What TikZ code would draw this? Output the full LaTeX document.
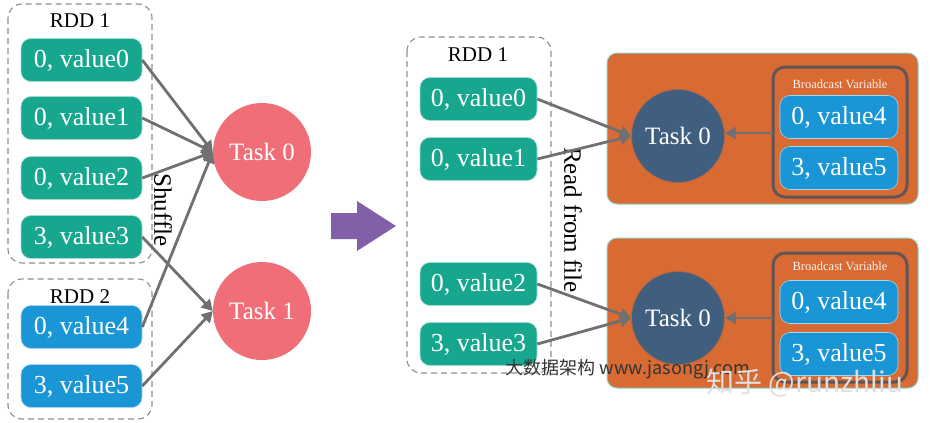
\documentclass[tikz,border=0pt]{standalone}
\usepackage{fontspec}
\setmainfont{Liberation Serif}
\newfontfamily\cjk{Noto Sans CJK SC}
\usetikzlibrary{arrows.meta}
\definecolor{teal1}{RGB}{23,166,142}
\definecolor{blue1}{RGB}{26,150,214}
\definecolor{pink1}{RGB}{240,110,120}
\definecolor{dark1}{RGB}{64,94,125}
\definecolor{orange1}{RGB}{216,107,52}
\definecolor{purple1}{RGB}{130,96,168}
\definecolor{line1}{RGB}{112,112,112}
\definecolor{bcline}{RGB}{95,85,85}
\tikzset{
  valbox/.style={rounded corners=10pt, minimum width=121pt, minimum height=43pt,
    text=white, font=\fontsize{26}{26}\selectfont, inner sep=0pt, draw=white!60!#1, line width=0.6pt, fill=#1},
  taskc/.style={circle, minimum size=#1, inner sep=0pt, text=white, font=\fontsize{25}{25}\selectfont},
  dbox/.style={draw=line1!80, dashed, dash pattern=on 6pt off 4pt, line width=1.1pt, rounded corners=14pt},
  conn/.style={draw=line1, line width=2.8pt, -{Triangle[length=11pt,width=12pt]}},
  lab/.style={font=\fontsize{21}{21}\selectfont},
  vlab/.style={font=\fontsize{25}{25}\selectfont, rotate=-90},
  obox/.style={fill=orange1, draw=teal1!50, line width=1pt, rounded corners=10pt},
  bcbox/.style={draw=bcline, line width=3pt, rounded corners=12pt},
}
\begin{document}
\begin{tikzpicture}[x=1pt,y=-1pt]
\useasboundingbox (0,0) rectangle (932,423);
% ---------- left panel ----------
\draw[dbox] (8,4) rectangle (152,263);
\draw[dbox] (8,279) rectangle (152,419);
\node[lab] (r1) at (80,21) {RDD 1};
\node[lab] (r2) at (80,297) {RDD 2};
\node[valbox=teal1] (a0) at (81.5,60) {0, value0};
\node[valbox=teal1] (a1) at (81.5,118) {0, value1};
\node[valbox=teal1] (a2) at (81.5,178) {0, value2};
\node[valbox=teal1] (a3) at (81.5,237) {3, value3};
\node[valbox=blue1] (a4) at (81.5,327) {0, value4};
\node[valbox=blue1] (a5) at (81.5,386) {3, value5};
\node[taskc=98pt, fill=pink1] (t0) at (262,152) {Task 0};
\node[taskc=98pt, fill=pink1] (t1) at (262,311) {Task 1};
\node[vlab] (sh) at (163,210) {Shuffle};
\draw[conn] (a0.east) -- (t0.west);
\draw[conn] (a1.east) -- (t0.west);
\draw[conn] (a2.east) -- (t0.west);
\draw[conn] (a4.east) -- (t0.west);
\draw[conn] (a3.east) -- (t1.west);
\draw[conn] (a5.east) -- (t1.west);
% ---------- big arrow ----------
\fill[purple1] (331,213) -- (357,213) -- (357,201) -- (396,226) -- (357,251) -- (357,239) -- (331,239) -- cycle;
% ---------- right panel ----------
\draw[dbox] (407,37) rectangle (551,373);
\node[lab] (rr1) at (478,55) {RDD 1};
\node[valbox=teal1, minimum width=117pt] (b0) at (478.5,99) {0, value0};
\node[valbox=teal1, minimum width=117pt] (b1) at (478.5,159) {0, value1};
\node[valbox=teal1, minimum width=117pt] (b2) at (478.5,284) {0, value2};
\node[valbox=teal1, minimum width=117pt] (b3) at (478.5,344) {3, value3};
\node[vlab] (rf) at (573,220) {Read from file};
% executor 1
\draw[obox] (607,53) rectangle (918,204);
\draw[bcbox] (773,67) rectangle (907,197);
\node[font=\fontsize{12.5}{12.5}\selectfont, text=white!90!orange1] (bv1) at (840,84) {Broadcast Variable};
\node[valbox=blue1, minimum width=118pt] (c4) at (839,117) {0, value4};
\node[valbox=blue1, minimum width=118pt] (c5) at (839,168) {3, value5};
\node[taskc=93pt, fill=dark1, draw=orange1!70!dark1, line width=0.8pt] (e0) at (678,136) {Task 0};
\coordinate (bc1w) at (773,133);
\draw[conn, line width=2.5pt] (bc1w) -- (e0.east |- bc1w);
\draw[conn] (b0.east) -- (e0.west);
\draw[conn] (b1.east) -- (e0.west);
% executor 2
\draw[obox] (607,238) rectangle (918,388);
\draw[bcbox] (773,253) rectangle (907,382);
\node[font=\fontsize{12.5}{12.5}\selectfont, text=white!90!orange1] (bv2) at (840,266) {Broadcast Variable};
\node[valbox=blue1, minimum width=118pt] (d4) at (839,302) {0, value4};
\node[valbox=blue1, minimum width=118pt] (d5) at (839,354) {3, value5};
\node[taskc=93pt, fill=dark1, draw=orange1!70!dark1, line width=0.8pt] (f0) at (678,318) {Task 0};
\coordinate (bc2w) at (773,318);
\draw[conn, line width=2.5pt] (bc2w) -- (f0.east);
\draw[conn] (b2.east) -- (f0.west);
\draw[conn] (b3.east) -- (f0.west);
% ---------- watermarks ----------
\node[font=\cjk\fontsize{18}{18}\selectfont, text=black!80, inner sep=0pt] (wm1) at (628,369) {大数据架构 www.jasongj.com};
\node[font=\cjk\fontsize{28}{28}\selectfont, text=white!88!black, inner sep=0pt] (wm2) at (805,383) {知乎 @runzhliu};
\end{tikzpicture}
\end{document}
